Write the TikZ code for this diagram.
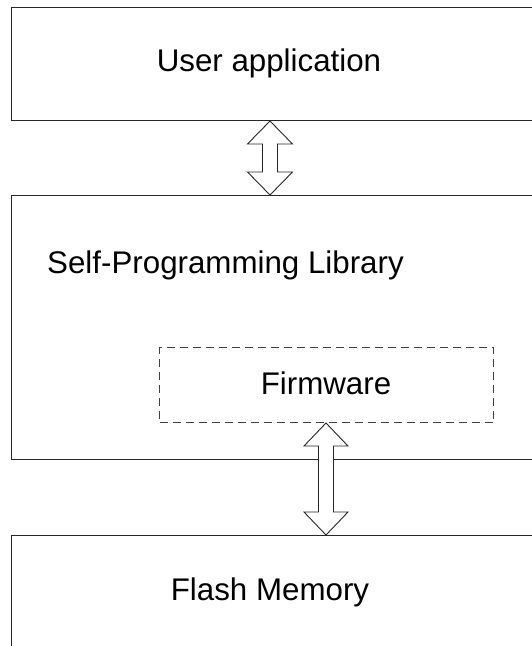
\documentclass[tikz,border=0pt]{standalone}
\usepackage{fontspec}
\setmainfont{Liberation Sans}
\usetikzlibrary{calc}
\tikzset{
  box/.style={draw=black!85, line width=1pt, fill=none},
  fwbox/.style={draw=black!75, line width=1pt, dash pattern=on 8pt off 5pt},
  lbl/.style={font=\fontsize{31.3}{36}\selectfont, inner sep=0pt},
  arrowline/.style={draw=black!85, line width=0.9pt, fill=white, line join=miter}
}
\newcommand\dblarrowshape[4]{% top, bottom, half shaft, half head
  \draw[arrowline] (#1) -- ($(#1)+(#4,23)$) -- ($(#1)+(#3,23)$) -- ($(#2)+(#3,-23)$) -- ($(#2)+(#4,-23)$) -- (#2)
   -- ($(#2)+(-#4,-23)$) -- ($(#2)+(-#3,-23)$) -- ($(#1)+(-#3,23)$) -- ($(#1)+(-#4,23)$) -- cycle;}
\begin{document}
\begin{tikzpicture}[x=1pt,y=-1pt]
\useasboundingbox (0,0) rectangle (532,646);
\clip (0,0) rectangle (532,646);
\fill[white] (0,0) rectangle (532,646);
% boxes
\node[box, inner sep=0pt, minimum width=549pt, minimum height=113pt, anchor=north west] (user) at (11,7) {};
\node[box, inner sep=0pt, minimum width=549pt, minimum height=264pt, anchor=north west] (spl) at (11,195) {};
\node[box, inner sep=0pt, minimum width=549pt, minimum height=140pt, anchor=north west] (flash) at (11,535) {};
\node[fwbox, inner sep=0pt, minimum width=334pt, minimum height=75pt, anchor=north west] (fw) at (159,347) {};
% labels
\node[lbl] (tuser) at (269,63) {User application};
\node[lbl, anchor=west] (tspl) at (47,265) {Self-Programming Library};
\node[lbl] (tfw) at (326,383) {Firmware};
\node[lbl] (tflash) at (270,592) {Flash Memory};
% arrows
\coordinate (a1t) at (user.south -| 270,0);
\coordinate (a1b) at (spl.north -| 270,0);
\coordinate (a2t) at (fw.south -| 326,0);
\coordinate (a2b) at (flash.north -| 326,0);
\dblarrowshape{a1t}{a1b}{7.5}{22.5}
\dblarrowshape{a2t}{a2b}{7.5}{22}
\end{tikzpicture}
\end{document}
